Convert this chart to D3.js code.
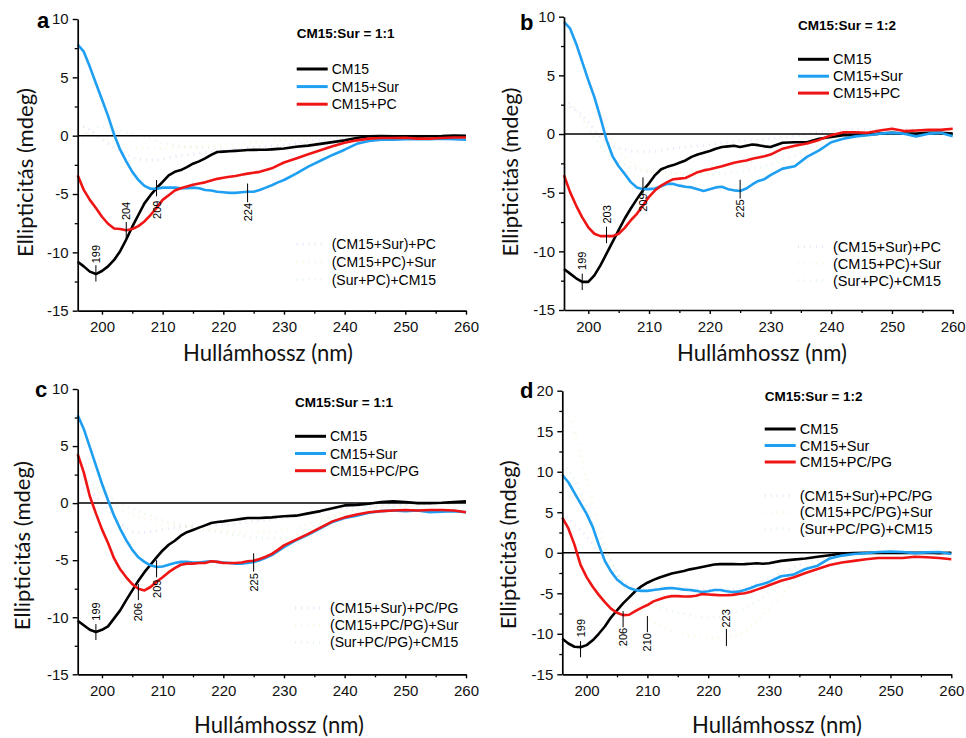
<!DOCTYPE html>
<html>
<head>
<meta charset="utf-8">
<script src="https://cdn.jsdelivr.net/npm/d3@7/dist/d3.min.js"></script>
<style>
  body { margin: 0; background: #fff; }
  svg { display: block; }
</style>
</head>
<body>
<div id="chart"></div>
<script>
// wavelengths (nm) shared by the measured spectra
const wavelengths = [196,197,198,199,200,201,202,203,204,205,206,207,208,209,210,211,212,213,214,215,216,217,218,219,220,221,222,223,224,225,226,227,228,229,230,232,234,236,238,240,242,244,246,248,250,252,254,256,258,260];

// panel a : CM15:Sur = 1:1, PC
const aCM15 = [-10.8,-11.2,-11.65,-11.86,-11.6,-11.2,-10.65,-9.9,-8.9,-7.8,-6.8,-5.8,-5.1,-4.5,-3.95,-3.4,-3.1,-2.95,-2.7,-2.4,-2.2,-1.95,-1.65,-1.4,-1.37,-1.33,-1.3,-1.27,-1.23,-1.22,-1.2,-1.2,-1.17,-1.13,-1.1,-0.95,-0.85,-0.7,-0.55,-0.4,-0.2,-0.05,-0.03,-0.05,-0.05,-0.08,-0.05,-0.03,0.02,0.0];
const aSur  = [7.8,7.2,5.9,4.5,3.1,1.7,0.1,-1.2,-2.2,-3.1,-3.8,-4.3,-4.55,-4.55,-4.45,-4.45,-4.45,-4.5,-4.5,-4.45,-4.5,-4.65,-4.7,-4.8,-4.85,-4.9,-4.9,-4.85,-4.8,-4.8,-4.65,-4.45,-4.25,-4.0,-3.8,-3.25,-2.65,-2.15,-1.65,-1.2,-0.7,-0.45,-0.35,-0.35,-0.3,-0.3,-0.3,-0.25,-0.3,-0.35];
const aPC   = [-3.4,-4.65,-5.5,-6.2,-6.95,-7.55,-7.95,-8.0,-8.1,-8.0,-7.75,-7.35,-6.8,-6.2,-5.5,-5.1,-4.7,-4.5,-4.35,-4.2,-4.1,-4.0,-3.85,-3.7,-3.6,-3.52,-3.45,-3.35,-3.25,-3.17,-3.1,-2.95,-2.8,-2.55,-2.3,-1.95,-1.6,-1.25,-0.9,-0.6,-0.4,-0.25,-0.2,-0.2,-0.18,-0.25,-0.25,-0.2,-0.15,-0.15];

// panel b : CM15:Sur = 1:2, PC
const bCM15 = [-11.5,-11.9,-12.3,-12.6,-12.6,-12.05,-11.2,-10.2,-9.2,-8.2,-7.2,-6.35,-5.55,-4.8,-4.2,-3.5,-3.0,-2.8,-2.65,-2.45,-2.25,-1.95,-1.75,-1.6,-1.45,-1.25,-1.1,-1.05,-1.0,-1.1,-1.0,-0.9,-0.95,-1.05,-1.1,-0.75,-0.7,-0.7,-0.4,-0.25,-0.1,-0.1,-0.05,0.03,0.1,0.03,0.03,0.1,0.1,0.03];
const bSur  = [9.55,9.0,7.7,6.15,4.6,3.15,1.4,-0.5,-1.9,-2.75,-3.4,-4.1,-4.55,-4.7,-4.7,-4.65,-4.45,-4.25,-4.25,-4.4,-4.5,-4.55,-4.7,-4.85,-4.7,-4.55,-4.5,-4.7,-4.8,-4.85,-4.65,-4.3,-4.0,-3.85,-3.5,-2.95,-2.75,-1.95,-1.4,-0.7,-0.4,-0.2,-0.1,0.03,0.1,0.03,-0.2,0.03,0.1,-0.2];
const bPC   = [-3.5,-4.95,-6.1,-7.1,-7.95,-8.5,-8.7,-8.7,-8.7,-8.5,-8.0,-7.35,-6.8,-6.1,-5.35,-4.8,-4.4,-4.1,-3.85,-3.8,-3.75,-3.5,-3.25,-3.1,-3.0,-2.87,-2.75,-2.6,-2.45,-2.35,-2.25,-2.1,-2.0,-1.9,-1.75,-1.25,-1.0,-0.8,-0.5,-0.1,0.15,0.15,0.1,0.3,0.45,0.25,0.3,0.35,0.35,0.45];

// panel c : CM15:Sur = 1:1, PC/PG
const cCM15 = [-10.3,-10.7,-11.1,-11.3,-11.1,-10.8,-10.1,-9.4,-8.5,-7.65,-6.8,-6.05,-5.4,-4.75,-4.15,-3.65,-3.3,-2.85,-2.55,-2.35,-2.15,-1.95,-1.75,-1.65,-1.6,-1.52,-1.45,-1.38,-1.3,-1.3,-1.3,-1.27,-1.25,-1.2,-1.15,-1.1,-0.9,-0.7,-0.45,-0.2,-0.15,-0.05,0.1,0.15,0.1,0,0,0.03,0.1,0.15];
const cSur  = [7.7,6.5,4.9,3.3,1.7,0.25,-1.1,-2.25,-3.25,-4.1,-4.75,-5.15,-5.45,-5.6,-5.55,-5.4,-5.25,-5.15,-5.15,-5.2,-5.2,-5.15,-5.1,-5.15,-5.2,-5.25,-5.3,-5.3,-5.25,-5.15,-5.0,-4.8,-4.55,-4.2,-3.85,-3.25,-2.75,-2.2,-1.65,-1.3,-1.1,-0.85,-0.7,-0.65,-0.7,-0.65,-0.8,-0.75,-0.7,-0.8];
const cPCPG = [4.3,2.7,0.6,-0.9,-2.3,-3.5,-4.85,-5.8,-6.5,-7.1,-7.5,-7.65,-7.35,-6.9,-6.5,-6.05,-5.7,-5.4,-5.3,-5.3,-5.25,-5.25,-5.1,-5.15,-5.25,-5.25,-5.25,-5.2,-5.1,-5.05,-4.9,-4.7,-4.45,-4.1,-3.7,-3.2,-2.7,-2.15,-1.6,-1.25,-1.0,-0.8,-0.7,-0.65,-0.6,-0.65,-0.6,-0.6,-0.65,-0.8];

// panel d : CM15:Sur = 1:2, PC/PG
const dCM15 = [-10.6,-11.2,-11.6,-11.65,-11.4,-10.8,-10.0,-9.1,-8.0,-7.1,-6.25,-5.5,-4.75,-4.15,-3.7,-3.35,-3.05,-2.8,-2.55,-2.4,-2.25,-2.05,-1.9,-1.75,-1.6,-1.45,-1.4,-1.4,-1.4,-1.42,-1.4,-1.35,-1.3,-1.35,-1.3,-1.0,-0.85,-0.7,-0.5,-0.3,-0.1,-0.05,-0.02,0,-0.02,0,-0.02,0,-0.05,0];
const dSur  = [9.6,8.7,7.4,6.1,4.8,3.2,1.0,-1.0,-2.3,-3.3,-3.9,-4.35,-4.6,-4.7,-4.7,-4.6,-4.5,-4.4,-4.35,-4.45,-4.55,-4.6,-4.7,-4.85,-4.75,-4.6,-4.6,-4.75,-4.85,-4.8,-4.6,-4.35,-4.05,-3.85,-3.6,-2.9,-2.7,-2.0,-1.6,-0.7,-0.35,-0.15,-0.05,0.1,0.15,0.1,-0.05,0.05,0.1,-0.15];
const dPCPG = [4.35,3.0,1.0,-1.5,-3.0,-4.2,-5.2,-6.1,-6.9,-7.4,-7.7,-7.65,-7.2,-6.8,-6.45,-6.0,-5.75,-5.5,-5.35,-5.35,-5.4,-5.4,-5.3,-5.1,-5.15,-5.2,-5.25,-5.25,-5.2,-5.1,-5.0,-4.8,-4.55,-4.3,-4.0,-3.45,-3.05,-2.5,-2.0,-1.5,-1.2,-1.0,-0.8,-0.65,-0.65,-0.65,-0.5,-0.55,-0.65,-0.8];

// the three faint (hidden) mixture spectra, coarse wavelengths
const faintWavelengths = [196,198,200,202,204,206,208,210,213,216,220,225,230,235,240,250,260];
const aMix1 = [1.0,0.5,-0.3,-1.0,-1.6,-2.0,-2.1,-2.0,-1.7,-1.5,-1.3,-1.0,-0.8,-0.4,-0.2,0,0];
const aMix2 = [0.2,0.1,-0.2,-0.5,-0.8,-1.0,-1.1,-1.1,-1.0,-0.9,-0.8,-0.6,-0.4,-0.2,-0.1,0,0];
const aMix3 = [-0.5,0.3,0.8,0.6,0.3,0,-0.3,-0.6,-0.9,-1.0,-1.1,-1.3,-1.0,-0.6,-0.3,-0.1,0];
const bMix1 = [2.5,2.0,1.0,-0.3,-1.0,-1.3,-1.5,-1.5,-1.3,-1.1,-0.9,-0.6,-0.4,-0.1,0.3,0.4,0.2];
const bMix2 = [9.0,7.5,5.0,2.0,-0.5,-2.0,-2.8,-3.2,-3.4,-3.3,-3.0,-2.5,-1.8,-1.0,-0.4,0,0];
const bMix3 = [3.0,2.0,0.5,-1.0,-2.0,-2.6,-3.0,-3.2,-3.3,-3.4,-3.4,-3.2,-2.6,-1.6,-0.6,0,0];
const cMix1 = [1.5,1.0,0,-1.2,-2.2,-2.6,-2.5,-2.3,-2.1,-2.0,-1.9,-1.6,-1.3,-0.8,-0.4,-0.1,0];
const cMix2 = [2.0,1.5,0.8,-0.2,-0.8,-1.2,-1.5,-1.8,-2.0,-2.2,-2.4,-2.6,-2.4,-1.6,-0.8,-0.2,0];
const cMix3 = [2.5,1.8,1.0,0.3,-0.3,-0.7,-1.1,-1.5,-1.9,-2.2,-2.6,-3.0,-3.1,-2.0,-0.8,-0.2,0];
const dMix1 = [5.0,3.5,2.0,0.0,-2.0,-3.5,-4.3,-4.5,-4.3,-4.4,-4.6,-4.5,-3.2,-1.5,-0.3,0,0];
const dMix2 = [19.0,15.0,9.0,3.5,-1.0,-4.0,-6.5,-8.0,-9.3,-10.0,-10.5,-10.0,-7.0,-3.0,-1.0,0,0];
const dMix3 = [11.0,9.0,5.5,2.0,-1.0,-3.5,-5.2,-6.3,-7.0,-7.5,-8.0,-7.2,-5.0,-2.2,-0.6,0,0];

// labels
const legendPC   = ["CM15", "CM15+Sur", "CM15+PC"];
const legendPCPG = ["CM15", "CM15+Sur", "CM15+PC/PG"];
const mixPC   = ["(CM15+Sur)+PC", "(CM15+PC)+Sur", "(Sur+PC)+CM15"];
const mixPCPG = ["(CM15+Sur)+PC/PG", "(CM15+PC/PG)+Sur", "(Sur+PC/PG)+CM15"];
const xTicks = [200, 210, 220, 230, 240, 250, 260];
const yTicks10 = [-15, -10, -5, 0, 5, 10];
const yTicks20 = [-15, -10, -5, 0, 5, 10, 15, 20];

// peak markers: wavelength, marker span (mdeg), label centre (mdeg)
const peaksA = [{nm:199, y1:-11.1, y2:-12.5, ty:-10.15}, {nm:204, y1:-7.4, y2:-8.9, ty:-6.45}, {nm:209, y1:-3.8, y2:-5.2, ty:-6.35}, {nm:224, y1:-4.1, y2:-5.7, ty:-6.55}];
const peaksB = [{nm:199, y1:-11.9, y2:-13.3, ty:-10.8}, {nm:203, y1:-7.9, y2:-9.3, ty:-6.85}, {nm:209, y1:-3.7, y2:-5.1, ty:-5.85}, {nm:225, y1:-3.9, y2:-5.5, ty:-6.35}];
const peaksC = [{nm:199, y1:-10.6, y2:-12.0, ty:-9.5}, {nm:206, y1:-7.1, y2:-8.5, ty:-9.55}, {nm:209, y1:-5.0, y2:-6.5, ty:-7.5}, {nm:225, y1:-4.4, y2:-6.0, ty:-6.95}];
const peaksD = [{nm:199, y1:-10.9, y2:-12.9, ty:-9.3}, {nm:206, y1:-7.2, y2:-9.2, ty:-10.4}, {nm:210, y1:-7.8, y2:-9.8, ty:-11.05}, {nm:223, y1:-9.4, y2:-11.5, ty:-8.1}];

const colors = ["#000000", "#1e9ff2", "#f01515"];
const faintColors = ["#c4c4f2", "#f2eab8", "#c4ecc4"];

const panels = [
  {letter:"a", title:"CM15:Sur = 1:1", series:[aCM15, aSur, aPC], mix:[aMix1, aMix2, aMix3], legend:legendPC, mixLegend:mixPC, yTicks:yTicks10, peaks:peaksA,
   left:77.7, right:466, top:19, bottom:310.7, letterPos:[37,28], titlePos:[296.7,38.3], legPos:[296.7,69], legStep:17.6, mixY:244.3, xLab:[268,352], yLab:[24,172.5], fs:14},
  {letter:"b", title:"CM15:Sur = 1:2", series:[bCM15, bSur, bPC], mix:[bMix1, bMix2, bMix3], legend:legendPC, mixLegend:mixPC, yTicks:yTicks10, peaks:peaksB,
   left:564, right:952.7, top:16.7, bottom:310, letterPos:[520,30], titlePos:[798,30], legPos:[798,59.3], legStep:16.9, mixY:246.7, xLab:[762,352], yLab:[509.7,172], fs:14.5},
  {letter:"c", title:"CM15:Sur = 1:1", series:[cCM15, cSur, cPCPG], mix:[cMix1, cMix2, cMix3], legend:legendPCPG, mixLegend:mixPCPG, yTicks:yTicks10, peaks:peaksC,
   left:77.7, right:466, top:389, bottom:674.3, letterPos:[35,397], titlePos:[295,407.3], legPos:[295,436.3], legStep:17.2, mixY:608, xLab:[279,724], yLab:[21.7,545.7], fs:14},
  {letter:"d", title:"CM15:Sur = 1:2", series:[dCM15, dSur, dPCPG], mix:[dMix1, dMix2, dMix3], legend:legendPCPG, mixLegend:mixPCPG, yTicks:yTicks20, peaks:peaksD,
   left:562.3, right:951.3, top:390.7, bottom:674.3, letterPos:[520,398], titlePos:[764.7,400.7], legPos:[764.7,429], legStep:16.5, mixY:495.7, xLab:[777,724], yLab:[507,544.8], fs:14.5}
];

const W = 966, H = 738;
const svg = d3.select("#chart").append("svg")
  .attr("width", W).attr("height", H)
  .attr("viewBox", `0 0 ${W} ${H}`)
  .style("font-family", "'Liberation Sans', Arial, sans-serif");

const titleFont = "Lato, 'Open Sans', sans-serif";

panels.forEach(p => {
  const yDomain = [p.yTicks[0], p.yTicks[p.yTicks.length - 1]];
  const x = d3.scaleLinear().domain([196, 260]).range([p.left, p.right]);
  const y = d3.scaleLinear().domain(yDomain).range([p.bottom, p.top]);
  const g = svg.append("g");

  const line = d3.line().x(d => x(d[0])).y(d => y(d[1]));

  // faint mixture spectra
  p.mix.forEach((vals, i) => {
    g.append("path")
      .datum(faintWavelengths.map((w, j) => [w, vals[j]]))
      .attr("d", line.curve(d3.curveMonotoneX))
      .attr("fill", "none")
      .attr("stroke", faintColors[i])
      .attr("stroke-width", 3)
      .attr("stroke-dasharray", "1 5")
      .attr("opacity", 0.4);
  });

  // zero line
  g.append("line")
    .attr("x1", x(196)).attr("x2", x(260))
    .attr("y1", y(0)).attr("y2", y(0))
    .attr("stroke", "#000").attr("stroke-width", 1.5);

  // measured spectra
  p.series.forEach((vals, i) => {
    g.append("path")
      .datum(wavelengths.map((w, j) => [w, vals[j]]))
      .attr("d", line.curve(d3.curveLinear))
      .attr("fill", "none")
      .attr("stroke", colors[i])
      .attr("stroke-width", 2.6)
      .attr("stroke-linejoin", "round");
  });

  // axes
  const minorY = d3.range(yDomain[0], yDomain[1] + 0.1, 2.5).filter(v => v % 5 !== 0);
  const minorX = d3.range(205, 260, 10);

  g.append("g").attr("transform", `translate(${p.left},0)`)
    .call(d3.axisLeft(y).tickValues(minorY).tickSize(3).tickSizeOuter(0).tickFormat(""))
    .call(a => a.select(".domain").remove())
    .selectAll("line").attr("stroke-width", 1.3);
  g.append("g").attr("transform", `translate(0,${p.bottom})`)
    .call(d3.axisBottom(x).tickValues(minorX).tickSize(3).tickSizeOuter(0).tickFormat(""))
    .call(a => a.select(".domain").remove())
    .selectAll("line").attr("stroke-width", 1.3);

  const yAxis = g.append("g").attr("transform", `translate(${p.left},0)`)
    .call(d3.axisLeft(y).tickValues(p.yTicks).tickSize(5).tickSizeOuter(0).tickPadding(4).tickFormat(d3.format("d")));
  const xAxis = g.append("g").attr("transform", `translate(0,${p.bottom})`)
    .call(d3.axisBottom(x).tickValues(xTicks).tickSize(4).tickSizeOuter(0).tickPadding(7).tickFormat(d3.format("d")));
  [yAxis, xAxis].forEach(a => {
    a.select(".domain").attr("stroke-width", 1.7);
    a.selectAll(".tick line").attr("stroke-width", 1.4);
    a.selectAll("text").attr("font-size", 15).attr("font-family", "'Liberation Sans', Arial, sans-serif").attr("fill", "#111");
  });
  yAxis.selectAll("text").text(d => d < 0 ? "-" + Math.abs(d) : d);

  // peak markers
  p.peaks.forEach(pk => {
    g.append("line")
      .attr("x1", x(pk.nm)).attr("x2", x(pk.nm))
      .attr("y1", y(pk.y1)).attr("y2", y(pk.y2))
      .attr("stroke", "#000").attr("stroke-width", 1);
    g.append("text")
      .attr("transform", `translate(${x(pk.nm)},${y(pk.ty)}) rotate(-90)`)
      .attr("text-anchor", "middle")
      .attr("dominant-baseline", "central")
      .attr("font-size", 11)
      .text(pk.nm);
  });

  // panel letter and title
  g.append("text").attr("x", p.letterPos[0]).attr("y", p.letterPos[1])
    .attr("font-size", 22).attr("font-weight", "bold").text(p.letter);
  g.append("text").attr("x", p.titlePos[0]).attr("y", p.titlePos[1])
    .attr("font-size", 13.5).attr("font-weight", "bold").text(p.title);

  // legend
  p.legend.forEach((name, i) => {
    const ly = p.legPos[1] + i * p.legStep;
    g.append("line").attr("x1", p.legPos[0]).attr("x2", p.legPos[0] + 31)
      .attr("y1", ly).attr("y2", ly)
      .attr("stroke", colors[i]).attr("stroke-width", 3);
    g.append("text").attr("x", p.legPos[0] + 35).attr("y", ly)
      .attr("dominant-baseline", "central").attr("font-size", p.fs).text(name);
  });
  p.mixLegend.forEach((name, i) => {
    const ly = p.mixY + i * p.legStep;
    g.append("line").attr("x1", p.legPos[0]).attr("x2", p.legPos[0] + 29)
      .attr("y1", ly).attr("y2", ly)
      .attr("stroke", faintColors[i]).attr("stroke-width", 3)
      .attr("stroke-dasharray", "1 5").attr("opacity", 0.4);
    g.append("text").attr("x", p.legPos[0] + 35).attr("y", ly)
      .attr("dominant-baseline", "central").attr("font-size", p.fs).text(name);
  });

  // axis titles, sized to the reference width
  const xt = g.append("text").attr("x", p.xLab[0]).attr("y", p.xLab[1])
    .attr("text-anchor", "middle").attr("dominant-baseline", "central")
    .attr("font-family", titleFont).attr("font-size", 20).attr("fill", "#111")
    .text("Hullámhossz (nm)");
  xt.attr("font-size", 20 * 170 / xt.node().getComputedTextLength());
  const yt = g.append("text")
    .attr("transform", `translate(${p.yLab[0]},${p.yLab[1]}) rotate(-90)`)
    .attr("text-anchor", "middle").attr("dominant-baseline", "central")
    .attr("font-family", titleFont).attr("font-size", 20).attr("fill", "#111")
    .text("Ellipticitás (mdeg)");
  yt.attr("font-size", 20 * 169 / yt.node().getComputedTextLength());
});
</script>
</body>
</html>
